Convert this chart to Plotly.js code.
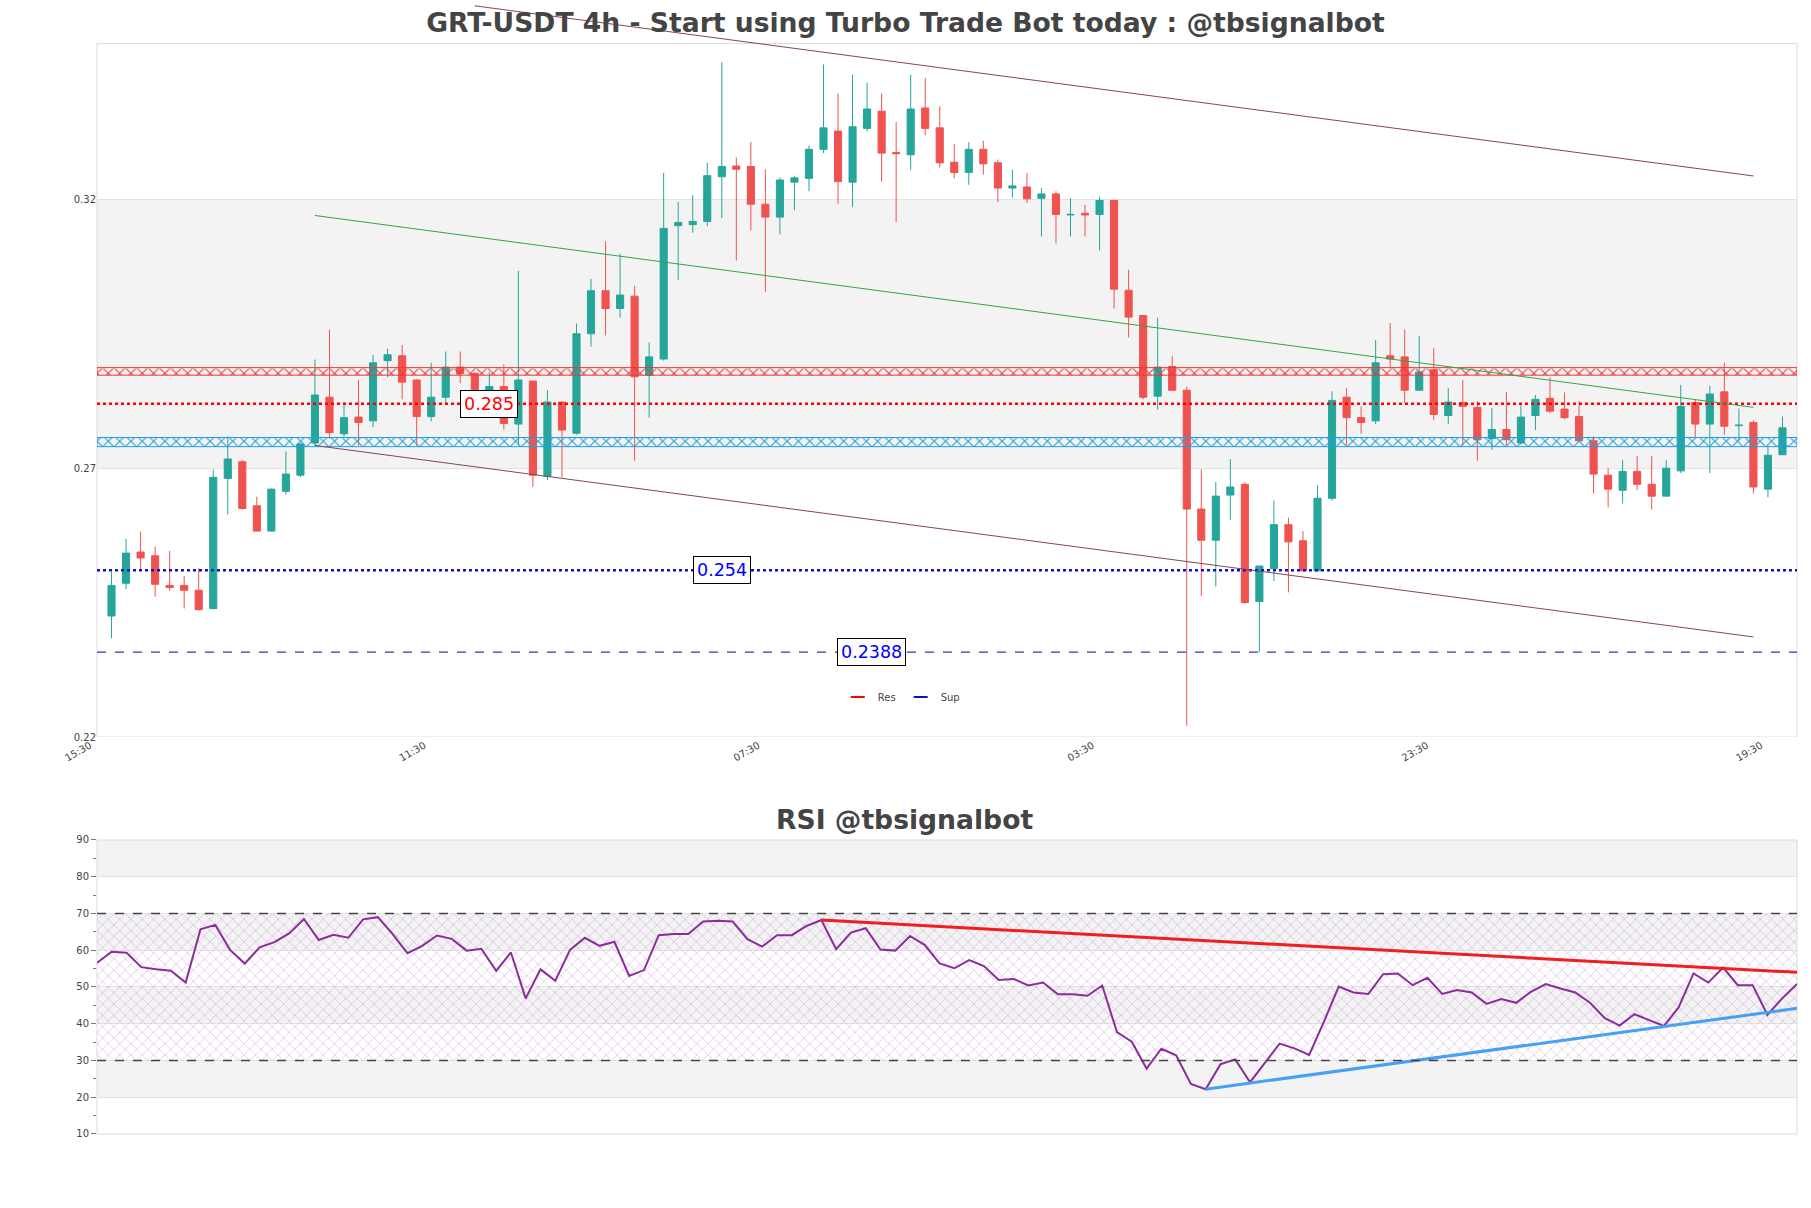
<!DOCTYPE html>
<html>
<head>
<meta charset="utf-8">
<script src="https://cdn.plot.ly/plotly-3.0.1.min.js"></script>
<style>
html,body{margin:0;padding:0;background:#fff;}
#chart{width:1811px;height:1208px;}
</style>
</head>
<body>
<div id="chart"></div>
<script>
// ---------------- DATA ----------------
const openP  = [0.2455,0.2516,0.2574,0.2567,0.2512,0.2512,0.2503,0.2469,0.2711,0.2742,0.2660,0.2613,0.2687,0.2717,0.2777,0.2862,0.2794,0.2825,0.2818,0.2930,
0.2939,0.2894,0.2826,0.2862,0.2918,0.2906,0.2871,0.2882,0.2812,0.2892,0.2715,0.2853,0.2795,0.2980,0.3060,0.3027,0.3050,0.2903,0.2933,0.3181,
0.3183,0.3189,0.3272,0.3292,0.3291,0.3221,0.3197,0.3262,0.3269,0.3323,0.3357,0.3262,0.3362,0.3394,0.3317,0.3313,0.3400,0.3363,0.3299,0.3280,
0.3323,0.3298,0.3251,0.3253,0.3232,0.3240,0.3201,0.3204,0.3202,0.3228,0.3061,0.3014,0.2864,0.2919,0.2875,0.2654,0.2596,0.2680,0.2700,0.2482,
0.2543,0.2625,0.2595,0.2539,0.2674,0.2862,0.2824,0.2818,0.2939,0.2937,0.2875,0.2913,0.2828,0.2852,0.2843,0.2785,0.2802,0.2777,0.2828,0.2860,
0.2840,0.2826,0.2781,0.2717,0.2689,0.2724,0.2700,0.2678,0.2725,0.2852,0.2812,0.2872,0.2809,0.2815,0.2691,0.2755];
const highP  = [0.2537,0.2599,0.2612,0.2584,0.2576,0.2529,0.2544,0.2727,0.2789,0.2745,0.2677,0.2692,0.2761,0.2775,0.2932,0.2988,0.2849,0.2894,0.2941,0.2952,
0.2959,0.2895,0.2926,0.2947,0.2947,0.2909,0.2909,0.2923,0.3097,0.2892,0.2875,0.2854,0.2999,0.3082,0.3152,0.3129,0.3069,0.2964,0.3279,0.3225,
0.3238,0.3298,0.3485,0.3308,0.3337,0.3286,0.3271,0.3274,0.3330,0.3481,0.3427,0.3462,0.3447,0.3427,0.3374,0.3462,0.3456,0.3403,0.3333,0.3336,
0.3339,0.3304,0.3285,0.3279,0.3251,0.3245,0.3232,0.3220,0.3235,0.3229,0.3099,0.3014,0.3010,0.2939,0.2882,0.2728,0.2704,0.2747,0.2704,0.2548,
0.2670,0.2638,0.2613,0.2698,0.2873,0.2879,0.2845,0.2968,0.3000,0.2988,0.2976,0.2953,0.2879,0.2894,0.2855,0.2842,0.2872,0.2847,0.2866,0.2899,
0.2871,0.2855,0.2789,0.2730,0.2745,0.2753,0.2753,0.2745,0.2885,0.2858,0.2883,0.2926,0.2841,0.2819,0.2772,0.2826];
const lowP   = [0.2414,0.2505,0.2539,0.2491,0.2502,0.2469,0.2465,0.2467,0.2644,0.2653,0.2612,0.2612,0.2681,0.2713,0.2772,0.2785,0.2789,0.2772,0.2806,0.2899,
0.2858,0.2772,0.2817,0.2849,0.2888,0.2866,0.2824,0.2802,0.2772,0.2695,0.2708,0.2713,0.2792,0.2956,0.2977,0.3010,0.2744,0.2824,0.2930,0.3080,
0.3168,0.3180,0.3195,0.3116,0.3172,0.3058,0.3165,0.3210,0.3245,0.3316,0.3222,0.3216,0.3357,0.3263,0.3188,0.3285,0.3349,0.3289,0.3269,0.3257,
0.3276,0.3225,0.3233,0.3223,0.3161,0.3148,0.3161,0.3161,0.3135,0.3027,0.2973,0.2858,0.2839,0.2874,0.2251,0.2492,0.2510,0.2634,0.2478,0.2388,
0.2520,0.2499,0.2539,0.2539,0.2670,0.2772,0.2794,0.2812,0.2918,0.2852,0.2874,0.2819,0.2812,0.2772,0.2744,0.2764,0.2772,0.2774,0.2801,0.2832,
0.2821,0.2779,0.2683,0.2657,0.2664,0.2689,0.2653,0.2678,0.2721,0.2787,0.2721,0.2792,0.2781,0.2683,0.2676,0.2755];
const closeP = [0.2512,0.2572,0.2563,0.2514,0.2508,0.2503,0.2467,0.2713,0.2747,0.2655,0.2613,0.2691,0.2719,0.2775,0.2866,0.2796,0.2824,0.2815,0.2926,0.2941,
0.2890,0.2826,0.2862,0.2918,0.2906,0.2871,0.2882,0.2813,0.2894,0.2717,0.2853,0.2801,0.2980,0.3060,0.3027,0.3052,0.2900,0.2937,0.3176,0.3187,
0.3189,0.3274,0.3291,0.3286,0.3221,0.3197,0.3266,0.3270,0.3323,0.3363,0.3263,0.3365,0.3398,0.3316,0.3315,0.3398,0.3362,0.3298,0.3280,0.3323,
0.3296,0.3251,0.3255,0.3231,0.3240,0.3202,0.3202,0.3201,0.3228,0.3063,0.3011,0.2862,0.2918,0.2875,0.2654,0.2596,0.2678,0.2695,0.2480,0.2548,
0.2625,0.2593,0.2539,0.2674,0.2856,0.2824,0.2815,0.2926,0.2933,0.2875,0.2909,0.2830,0.2853,0.2845,0.2783,0.2802,0.2783,0.2825,0.2858,0.2836,
0.2824,0.2781,0.2719,0.2691,0.2724,0.2700,0.2678,0.2730,0.2845,0.2812,0.2868,0.2808,0.2810,0.2695,0.2754,0.2805];

const rsiValues = [56.6,59.6,59.3,55.4,54.8,54.4,51.2,65.7,66.9,60.1,56.4,60.8,62.2,64.6,68.5,62.8,64.2,63.4,68.4,69.0,
64.4,59.2,61.2,64.0,63.1,59.9,60.4,54.4,59.4,46.9,54.8,51.7,60.1,63.4,61.2,62.3,53.0,54.6,64.1,64.4,
64.4,67.8,68.0,67.8,63.0,61.0,64.1,64.1,66.6,68.2,60.3,64.8,66.0,60.2,59.9,63.9,61.4,56.4,55.1,57.3,
55.7,51.9,52.2,50.4,51.2,48.0,48.0,47.6,50.4,37.7,35.1,27.8,33.2,31.4,23.6,22.2,29.0,30.3,24.1,29.2,
34.6,33.3,31.5,40.6,50.1,48.5,48.1,53.5,53.7,50.5,52.5,48.1,49.2,48.5,45.4,46.7,45.7,48.7,50.8,49.6,
48.5,45.7,41.5,39.5,42.6,41.0,39.4,44.5,53.7,51.2,55.3,50.5,50.5,42.4,46.9,50.8];

const startTime = Date.UTC(2024, 2, 10, 19, 30);   // first candle 19:30
const candleMs = 4 * 3600 * 1000;                  // 4h candles
const tickEvery = 23;                               // label every 23 candles

const resLevel = 0.285, supLevel = 0.254, sup2Level = 0.2388;
const resZone = [0.2903, 0.2917];
const supZone = [0.2770, 0.2787];
const labelIdx = [26, 42, 52.3];
const legendNames = ['Res', 'Sup'];

const channelUpperIdx = [25, 113], channelUpperY = [0.3590, 0.32735];
const channelLowerIdx = [14, 113], channelLowerY = [0.27722, 0.24161];
const trendMidIdx = [14, 113],      trendMidY = [0.3200, 0.28431];

const rsiResIdx = [49, 115], rsiResY = [68.2, 54.0];
const rsiSupIdx = [75, 115], rsiSupY = [22.2, 44.2];
const rsiLevels = [30, 70];
const rsiBands = [[20,30],[40,50],[60,70],[80,90]];

const yLow = 0.2230, yTopFrame = 0.3520, yTopCanvas = 0.36008;
const priceBand = [0.2730, 0.3230];

// ---------------- helpers ----------------
function t(i){
  const d = new Date(startTime + i*candleMs).toISOString();
  return d.slice(0,19).replace('T',' ');
}
const times = openP.map((_, i) => t(i));
const N = times.length;
const xStart = t(-1), xEnd = t(N);

// ---------------- traces ----------------
const traces = [];

function zone(z, col){
  return {type:'scatter', mode:'lines', x:[xStart,xEnd,xEnd,xStart,xStart], y:[z[0],z[0],z[1],z[1],z[0]],
    fill:'toself', fillcolor:'rgba(0,0,0,0)', fillpattern:{shape:'x', fgcolor:col, size:8, solidity:0.25},
    line:{color:col, width:1}, showlegend:false, hoverinfo:'skip', xaxis:'x', yaxis:'y'};
}
traces.push(zone(resZone, 'rgb(235,55,55)'));
traces.push(zone(supZone, 'rgb(30,160,220)'));

const resColor = 'red', supColor = '#1010c8';
traces.push({type:'scatter', mode:'lines', name:legendNames[0], x:[xStart,xEnd], y:[resLevel,resLevel], showlegend:false,
  line:{color:resColor, width:2.5, dash:'dot'}, hoverinfo:'skip'});
traces.push({type:'scatter', mode:'lines', name:legendNames[1], x:[xStart,xEnd], y:[supLevel,supLevel], showlegend:false,
  line:{color:supColor, width:2.5, dash:'dot'}, hoverinfo:'skip'});
traces.push({type:'scatter', mode:'lines', x:[xStart,xEnd], y:[sup2Level,sup2Level], showlegend:false,
  line:{color:'rgb(55,55,175)', width:1.3, dash:'dash'}, hoverinfo:'skip'});
// legend entries (short line symbols)
traces.push({type:'scatter', mode:'markers', name:legendNames[0], x:[null], y:[null],
  marker:{symbol:'line-ew-open', size:10, color:resColor, line:{width:2}}, hoverinfo:'skip'});
traces.push({type:'scatter', mode:'markers', name:legendNames[1], x:[null], y:[null],
  marker:{symbol:'line-ew-open', size:10, color:supColor, line:{width:2}}, hoverinfo:'skip'});

traces.push({type:'scatter', mode:'lines', x:channelUpperIdx.map(t), y:channelUpperY, showlegend:false,
  line:{color:'rgb(130,70,90)', width:1}, hoverinfo:'skip'});
traces.push({type:'scatter', mode:'lines', x:channelLowerIdx.map(t), y:channelLowerY, showlegend:false,
  line:{color:'rgb(130,70,90)', width:1}, hoverinfo:'skip'});
traces.push({type:'scatter', mode:'lines', x:trendMidIdx.map(t), y:trendMidY, showlegend:false,
  line:{color:'rgb(50,165,70)', width:1}, hoverinfo:'skip'});

traces.push({type:'candlestick', x:times, open:openP, high:highP, low:lowP, close:closeP,
  increasing:{line:{color:'#26a69a', width:1}, fillcolor:'#26a69a'},
  decreasing:{line:{color:'#ef5350', width:1}, fillcolor:'#ef5350'},
  showlegend:false, hoverinfo:'skip', xaxis:'x', yaxis:'y'});

// RSI
traces.push({type:'scatter', mode:'lines', x:[times[0],times[N-1],times[N-1],times[0],times[0]],
  y:[rsiLevels[0],rsiLevels[0],rsiLevels[1],rsiLevels[1],rsiLevels[0]],
  fill:'toself', fillcolor:'rgba(0,0,0,0)', fillpattern:{shape:'x', fgcolor:'rgba(195,150,210,0.5)', size:8, solidity:0.2},
  line:{width:0}, showlegend:false, hoverinfo:'skip', xaxis:'x2', yaxis:'y2'});
traces.push({type:'scatter', mode:'lines', x:times, y:rsiValues, showlegend:false, hoverinfo:'skip',
  line:{color:'#8c2c9c', width:2}, xaxis:'x2', yaxis:'y2'});
traces.push({type:'scatter', mode:'lines', x:rsiResIdx.map(t), y:rsiResY, showlegend:false, hoverinfo:'skip',
  line:{color:'rgb(240,30,30)', width:3}, xaxis:'x2', yaxis:'y2'});
traces.push({type:'scatter', mode:'lines', x:rsiSupIdx.map(t), y:rsiSupY, showlegend:false, hoverinfo:'skip',
  line:{color:'rgb(70,160,245)', width:3}, xaxis:'x2', yaxis:'y2'});

// ---------------- shapes ----------------
const shapes = [];
shapes.push({type:'rect', xref:'x domain', x0:0, x1:1, yref:'y', y0:priceBand[0], y1:priceBand[1],
  fillcolor:'#f3f3f3', line:{width:0}, layer:'below'});
shapes.push({type:'rect', xref:'x domain', x0:0, x1:1, yref:'y', y0:yLow, y1:yTopFrame,
  fillcolor:'rgba(0,0,0,0)', line:{color:'#dcdcdc', width:1}, layer:'below'});
rsiBands.forEach(b => shapes.push({type:'rect', xref:'x2 domain', x0:0, x1:1, yref:'y2', y0:b[0], y1:b[1],
  fillcolor:'#f3f3f3', line:{width:0}, layer:'below'}));
shapes.push({type:'rect', xref:'x2 domain', x0:0, x1:1, yref:'y2 domain', y0:0, y1:1,
  fillcolor:'rgba(0,0,0,0)', line:{color:'#dcdcdc', width:1}, layer:'below'});
rsiLevels.forEach(v => shapes.push({type:'line', xref:'x2 domain', x0:0, x1:1, yref:'y2', y0:v, y1:v,
  line:{color:'#444', width:1.3, dash:'dash'}, layer:'above'}));

// ---------------- annotations ----------------
function lbl(text, idx, y, col){
  return {text:text, x:t(idx), y:y, xref:'x', yref:'y', showarrow:false,
    font:{size:17.5, color:col, family:'DejaVu Sans'}, bgcolor:'white', bordercolor:'black', borderwidth:1, borderpad:3,
    xanchor:'center', yanchor:'middle'};
}
const annotations = [
  lbl(String(resLevel), labelIdx[0], resLevel, 'red'),
  lbl(String(supLevel), labelIdx[1], supLevel, 'blue'),
  lbl(String(sup2Level), labelIdx[2], sup2Level, 'blue'),
  {text:'<b>RSI @tbsignalbot</b>', xref:'paper', yref:'paper', x:0.4751, y:0.2769, showarrow:false,
   xanchor:'center', yanchor:'middle', font:{size:26.6, color:'#444', family:'DejaVu Sans'}}
];

const layout = {
  width:1811, height:1208,
  paper_bgcolor:'white', plot_bgcolor:'rgba(0,0,0,0)',
  font:{family:'DejaVu Sans', size:10, color:'#444'},
  margin:{l:97, r:14, t:0, b:74},
  title:{text:'<b>GRT-USDT 4h - Start using Turbo Trade Bot today : @tbsignalbot</b>',
    x:0.5, xref:'container', xanchor:'center', y:0.9815, yref:'container', yanchor:'middle',
    font:{size:26.6, color:'#444', family:'DejaVu Sans'}},
  showlegend:true,
  legend:{orientation:'h', x:0.4731, xanchor:'center', y:0.3854, yanchor:'middle',
    bgcolor:'rgba(0,0,0,0)', font:{size:10, color:'#444'}, itemwidth:30, tracegroupgap:0},
  xaxis:{domain:[0,1], anchor:'y', type:'date', range:[xStart, xEnd],
    tick0:xStart, dtick:tickEvery*candleMs, tickformat:'%H:%M', tickangle:-30, ticklabelshift:-7,
    showgrid:false, zeroline:false, showline:false, ticks:'',
    rangeslider:{visible:false}, tickfont:{size:10, color:'#444'}},
  yaxis:{domain:[0.35009,1], anchor:'x', range:[yLow, yTopCanvas],
    tick0:yLow, dtick:0.05, tickformat:'.2f', showgrid:true, gridcolor:'#e2e2e2', gridwidth:1,
    zeroline:false, showline:false, ticks:'', tickfont:{size:10, color:'#444'}},
  xaxis2:{domain:[0,1], anchor:'y2', type:'date', range:[times[0], times[N-1]],
    showticklabels:false, showgrid:false, zeroline:false, showline:false, ticks:''},
  yaxis2:{domain:[0,0.25926], anchor:'x2', range:[10,90], tick0:10, dtick:10,
    ticks:'outside', ticklen:5, tickcolor:'#777', tickwidth:1,
    minor:{dtick:5, ticks:'outside', ticklen:3, tickcolor:'#777', showgrid:false},
    showgrid:true, gridcolor:'#e2e2e2', zeroline:false, showline:false, tickfont:{size:10, color:'#444'}},
  shapes:shapes,
  annotations:annotations
};

Plotly.newPlot('chart', traces, layout, {displayModeBar:false, responsive:false});
</script>
</body>
</html>
